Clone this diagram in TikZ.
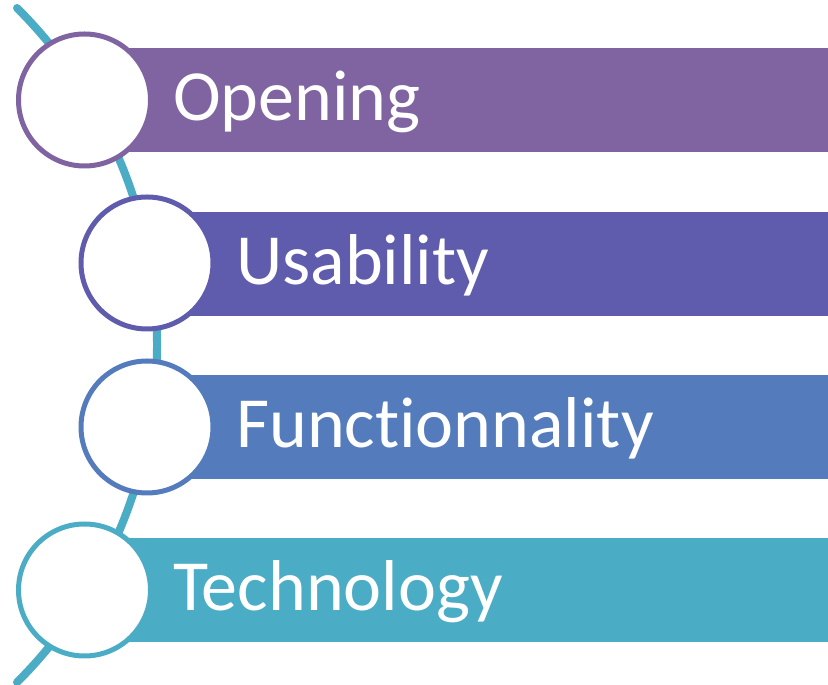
\documentclass[tikz,border=0pt]{standalone}
\usepackage{fontspec}
\setmainfont[Ligatures=NoCommon]{Carlito}
\usepackage{xcolor}
\definecolor{ColOpen}{RGB}{128,100,162}
\definecolor{ColUse}{RGB}{96,92,173}
\definecolor{ColFun}{RGB}{84,124,189}
\definecolor{ColTech}{RGB}{75,172,198}
\tikzstyle{Bar}=[rectangle,anchor=west,inner sep=0pt,minimum height=104pt]
\tikzstyle{Ring}=[circle,fill=white,line width=5pt,inner sep=0pt,minimum size=132pt]
\tikzstyle{Label}=[anchor=base west,inner sep=0pt,text=white,font=\fontsize{72}{86}\selectfont]
\tikzstyle{Spine}=[ColTech,line width=8pt,line cap=round]

\begin{document}
\begin{tikzpicture}[x=1pt,y=1pt]
        \useasboundingbox (0,0) rectangle (828,685);
        \coordinate (top) at (17,677);
        \draw[Spine](top) arc[start angle=45.1,end angle=-45.1,radius=476pt] coordinate (bot);
        \node[Bar,fill=ColOpen,minimum width=743pt](bopen)at(85,585){};
        \node[Bar,fill=ColUse,minimum width=681pt](buse)at(147,421){};
        \node[Bar,fill=ColFun,minimum width=681pt](bfun)at(147,258){};
        \node[Bar,fill=ColTech,minimum width=743pt](btech)at(85,95){};
        \node[Ring,draw=ColOpen](copen)at(84.5,585){};
        \node[Ring,draw=ColUse](cuse)at(147,422){};
        \node[Ring,draw=ColFun](cfun)at(147,258){};
        \node[Ring,draw=ColTech](ctech)at(84.5,95){};
        \node[Label](topen)at(173,564){Opening};
        \node[Label](tuse)at(236,400){Usability};
        \node[Label](tfun)at(236,237){Functionnality};
        \node[Label](ttech)at(173,74){Technology};
    \end{tikzpicture}
\end{document}
